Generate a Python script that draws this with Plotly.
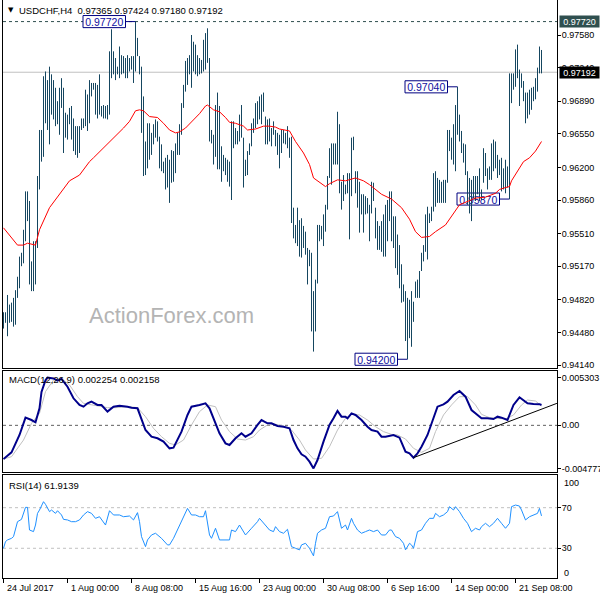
import plotly.graph_objects as go

# ---------------- data ----------------
highs = [
    0.9469, 0.9469, 0.9487, 0.9477, 0.9479, 0.9484, 0.9492, 0.9506, 0.9527, 0.9531,
    0.9555, 0.9595, 0.9595, 0.9585, 0.9522, 0.9543, 0.9543, 0.9611, 0.9659, 0.9659,
    0.9715, 0.9720, 0.9711, 0.9725, 0.9717, 0.9711, 0.9703, 0.9689, 0.9703, 0.9713,
    0.9703, 0.9677, 0.9675, 0.9682, 0.9684, 0.9671, 0.9663, 0.9663, 0.9663, 0.9671,
    0.9671, 0.9701, 0.9696, 0.9711, 0.9708, 0.9708,
    0.9708, 0.9706, 0.9717, 0.9684, 0.9685, 0.9684, 0.9685, 0.9741, 0.9764, 0.9741,
    0.9734, 0.9725, 0.9746, 0.9737, 0.9736, 0.9734, 0.9737, 0.9734, 0.9736, 0.9736,
    0.9772, 0.9755, 0.9736, 0.9725, 0.9694, 0.9647, 0.9666, 0.9666, 0.9656, 0.9665,
    0.9670, 0.9668, 0.9652, 0.9644, 0.9626, 0.9630, 0.9633, 0.9628, 0.9638, 0.9637,
    0.9645, 0.9656, 0.9665, 0.9687, 0.9706, 0.9731, 0.9734,
    0.9737, 0.9758, 0.9751, 0.9748, 0.9737, 0.9734, 0.9732, 0.9753, 0.9760, 0.9765,
    0.9734, 0.9659, 0.9654, 0.9685, 0.9698, 0.9684, 0.9642, 0.9633, 0.9630, 0.9628,
    0.9626, 0.9668, 0.9668, 0.9661, 0.9658, 0.9675, 0.9685, 0.9651, 0.9628, 0.9637,
    0.9645, 0.9666, 0.9671, 0.9687, 0.9689, 0.9694, 0.9696, 0.9698, 0.9673, 0.9670,
    0.9671, 0.9661, 0.9668, 0.9659, 0.9656, 0.9654,
    0.9659, 0.9659, 0.9656, 0.9663, 0.9651, 0.9652, 0.9578, 0.9560, 0.9578, 0.9565,
    0.9567, 0.9559, 0.9553, 0.9536, 0.9534, 0.9531, 0.9491, 0.9503, 0.9560, 0.9560,
    0.9559, 0.9571, 0.9581, 0.9611, 0.9640, 0.9645, 0.9645, 0.9645, 0.9678, 0.9665,
    0.9605, 0.9612, 0.9602, 0.9614, 0.9614, 0.9651, 0.9652, 0.9616, 0.9616, 0.9605,
    0.9592, 0.9592, 0.9590, 0.9588, 0.9581, 0.9605, 0.9604,
    0.9578, 0.9564, 0.9559, 0.9564, 0.9571, 0.9581, 0.9586, 0.9595, 0.9595, 0.9569,
    0.9569, 0.9550, 0.9539, 0.9519, 0.9498, 0.9491, 0.9484, 0.9482, 0.9491, 0.9480,
    0.9501, 0.9503, 0.9512, 0.9531, 0.9539, 0.9571, 0.9579, 0.9572, 0.9579, 0.9614,
    0.9616, 0.9609, 0.9607, 0.9605, 0.9607, 0.9607, 0.9659, 0.9659, 0.9651, 0.9665,
    0.9685, 0.9704, 0.9675, 0.9658, 0.9645, 0.9644,
    0.9616, 0.9609, 0.9607, 0.9611, 0.9611, 0.9611, 0.9619, 0.9597, 0.9640, 0.9635,
    0.9619, 0.9621, 0.9645, 0.9649, 0.9647, 0.9633, 0.9628, 0.9630, 0.9619, 0.9628,
    0.9621, 0.9718, 0.9718, 0.9718, 0.9743, 0.9748, 0.9722, 0.9718, 0.9710, 0.9698,
    0.9698, 0.9701, 0.9703, 0.9704, 0.9713, 0.9724, 0.9746, 0.97424,
]
lows = [
    0.9452, 0.9458, 0.9444, 0.9458, 0.9459, 0.9454, 0.9456, 0.9484, 0.9494, 0.9517,
    0.9520, 0.9543, 0.9564, 0.9498, 0.9491, 0.9491, 0.9498, 0.9536, 0.9597, 0.9626,
    0.9631, 0.9666, 0.9659, 0.9644, 0.9675, 0.9670, 0.9663, 0.9665, 0.9654, 0.9682,
    0.9635, 0.9651, 0.9649, 0.9665, 0.9649, 0.9637, 0.9633, 0.9630, 0.9635, 0.9659,
    0.9661, 0.9663, 0.9658, 0.9666, 0.9694, 0.9701,
    0.9675, 0.9671, 0.9675, 0.9673, 0.9671, 0.9671, 0.9670, 0.9675, 0.9713, 0.9717,
    0.9711, 0.9717, 0.9713, 0.9717, 0.9718, 0.9713, 0.9713, 0.9720, 0.9722, 0.9708,
    0.9720, 0.9736, 0.9717, 0.9656, 0.9611, 0.9612, 0.9619, 0.9628, 0.9633, 0.9644,
    0.9651, 0.9647, 0.9619, 0.9616, 0.9614, 0.9597, 0.9599, 0.9583, 0.9604, 0.9605,
    0.9614, 0.9633, 0.9633, 0.9654, 0.9682, 0.9699, 0.9706,
    0.9717, 0.9703, 0.9720, 0.9717, 0.9715, 0.9717, 0.9718, 0.9720, 0.9722, 0.9729,
    0.9647, 0.9645, 0.9623, 0.9631, 0.9618, 0.9618, 0.9605, 0.9616, 0.9612, 0.9605,
    0.9600, 0.9586, 0.9640, 0.9644, 0.9644, 0.9647, 0.9651, 0.9599, 0.9611, 0.9612,
    0.9633, 0.9642, 0.9656, 0.9661, 0.9665, 0.9670, 0.9665, 0.9678, 0.9644, 0.9644,
    0.9647, 0.9642, 0.9654, 0.9642, 0.9633, 0.9619,
    0.9635, 0.9645, 0.9644, 0.9640, 0.9630, 0.9562, 0.9546, 0.9541, 0.9538, 0.9527,
    0.9526, 0.9536, 0.9529, 0.9498, 0.9517, 0.9449, 0.9428, 0.9449, 0.9499, 0.9543,
    0.9545, 0.9538, 0.9553, 0.9576, 0.9609, 0.9602, 0.9623, 0.9623, 0.9623, 0.9593,
    0.9576, 0.9585, 0.9592, 0.9593, 0.9545, 0.9590, 0.9638, 0.9593, 0.9578, 0.9552,
    0.9571, 0.9552, 0.9571, 0.9572, 0.9543, 0.9572, 0.9585,
    0.9546, 0.9534, 0.9534, 0.9532, 0.9527, 0.9527, 0.9543, 0.9564, 0.9543, 0.9536,
    0.9515, 0.9508, 0.9494, 0.9479, 0.9480, 0.9439, 0.9420, 0.9442, 0.9433, 0.9459,
    0.9484, 0.9484, 0.9484, 0.9512, 0.9522, 0.9532, 0.9524, 0.9562, 0.9564, 0.9574,
    0.9579, 0.9583, 0.9583, 0.9583, 0.9583, 0.9583, 0.9604, 0.9637, 0.9628, 0.9623,
    0.9616, 0.9654, 0.9647, 0.9635, 0.9625, 0.9612,
    0.9581, 0.9572, 0.9564, 0.9588, 0.9585, 0.9592, 0.9585, 0.9586, 0.9604, 0.9611,
    0.9597, 0.9607, 0.9607, 0.9616, 0.9619, 0.9609, 0.9612, 0.9595, 0.9597, 0.9593,
    0.9599, 0.9587, 0.9687, 0.9701, 0.9704, 0.9713, 0.9684, 0.9703, 0.9689, 0.9666,
    0.9671, 0.9675, 0.9680, 0.9689, 0.9691, 0.9699, 0.9718, 0.97180,
]

# moving average (red line), sampled at bar positions
ma_idx = [0, 7, 10, 12, 16, 18, 23, 28, 33, 38, 43, 45, 50, 53, 57, 60, 63, 66, 68, 70,
          73, 77, 80, 83, 86, 88, 91, 95, 98, 101, 102, 105, 108, 111, 113, 116, 120, 122, 126, 130,
          133, 136, 138, 143, 144, 146, 150, 153, 155, 158, 161, 163, 167, 171, 176, 180, 183, 189, 194, 199,
          203, 206, 209, 213, 216, 221, 224, 228, 236, 241, 246, 248, 251, 253, 254, 257, 260, 263, 266, 269]
ma_val = [0.9557, 0.9539, 0.9539, 0.9541, 0.9539, 0.9555, 0.9578, 0.9592, 0.9606, 0.9612,
          0.9626, 0.9630, 0.9640, 0.9647, 0.9654, 0.9661, 0.9668, 0.9679, 0.9680, 0.9679,
          0.9673, 0.9672, 0.9666, 0.9659, 0.9656, 0.9657, 0.9661, 0.9670, 0.9676, 0.9684,
          0.9685, 0.9680, 0.9678, 0.9672, 0.9667, 0.9666, 0.9663, 0.9659, 0.9660, 0.9663,
          0.9663, 0.9662, 0.9660, 0.9658, 0.9654, 0.9647, 0.9635, 0.9623, 0.9609, 0.9604,
          0.9600, 0.9603, 0.9607, 0.9606, 0.9609, 0.9606, 0.9602, 0.9592, 0.9587, 0.9578,
          0.9566, 0.9553, 0.9547, 0.9548, 0.9553, 0.9560, 0.9569, 0.9581, 0.9588, 0.9589,
          0.9593, 0.9597, 0.9599, 0.9600, 0.9606, 0.9616, 0.9626, 0.9630, 0.9637, 0.9647]

# MACD main line
macd_idx = [0, 4, 8, 11, 14, 16, 18, 19, 21, 22, 25, 27, 29, 32, 35, 38, 40, 42, 44, 47,
            49, 52, 55, 58, 62, 64, 67, 69, 71, 74, 77, 80, 83, 85, 86, 89, 92, 94, 98, 101,
            103, 106, 108, 111, 113, 116, 119, 121, 124, 127, 129, 132, 134, 137, 140, 143, 145, 147, 149, 151,
            153, 155, 157, 160, 163, 165, 167, 169, 171, 172, 174, 176, 179, 182, 184, 187, 189, 191, 193, 195,
            198, 201, 203, 205, 207, 209, 212, 215, 217, 220, 222, 225, 228, 231, 234, 237, 239, 242, 245, 247,
            249, 252, 255, 258, 260, 262, 265, 268, 269]
macd_val = [-0.00374, -0.00300, -0.00107, 0.00085, 0.00059, 0.00033, 0.00189, 0.00370, 0.00500, 0.00530,
            0.00520, 0.00495, 0.00515, 0.00429, 0.00300, 0.00226, 0.00207, 0.00244, 0.00263, 0.00226,
            0.00226, 0.00152, 0.00207, 0.00218, 0.00207, 0.00196, 0.00189, 0.00078, -0.00052, -0.00126,
            -0.00144, -0.00181, -0.00255, -0.00248, -0.00200, -0.00070, 0.00115, 0.00207, 0.00226, 0.00244,
            0.00189, 0.00022, -0.00089, -0.00200, -0.00218, -0.00144, -0.00089, -0.00126, -0.00089, 0.00004,
            0.00059, 0.00022, 0.00022, -0.00007, -0.00015, -0.00033, -0.00163, -0.00255, -0.00322, -0.00348,
            -0.00403, -0.00478, -0.00385, -0.00181, 0.00004, 0.00078, 0.00159, 0.00096, 0.00096, 0.00078,
            0.00133, 0.00115, 0.00059, -0.00015, -0.00052, -0.00070, -0.00126, -0.00126, -0.00118, -0.00107,
            -0.00137, -0.00292, -0.00311, -0.00359, -0.00311, -0.00237, -0.00107, 0.00078, 0.00207, 0.00233,
            0.00263, 0.00337, 0.00381, 0.00318, 0.00170, 0.00115, 0.00078, 0.00078, 0.00070, 0.00096,
            0.00085, 0.00059, 0.00226, 0.00311, 0.00281, 0.00244, 0.00237, 0.00235, 0.002254]

# MACD signal line
sig_idx = [0, 4, 10, 14, 18, 21, 25, 29, 33, 37, 40, 44, 48, 52, 56, 60, 63, 67, 71, 75,
           79, 83, 86, 90, 94, 98, 102, 106, 109, 113, 117, 121, 125, 128, 132, 136, 140, 144, 148, 151,
           155, 159, 163, 167, 171, 174, 178, 182, 186, 190, 194, 197, 201, 205, 209, 213, 216, 220, 224, 228,
           232, 236, 239, 243, 247, 251, 255, 259, 262, 266, 269]
sig_val = [-0.00374, -0.00348, -0.00163, 0.00022, 0.00133, 0.00374, 0.00503, 0.00522, 0.00448, 0.00318,
           0.00244, 0.00226, 0.00215, 0.00196, 0.00196, 0.00207, 0.00207, 0.00196, 0.00096, -0.00033,
           -0.00126, -0.00200, -0.00218, -0.00163, 0.00004, 0.00152, 0.00226, 0.00207, 0.00059, -0.00070,
           -0.00152, -0.00163, -0.00126, -0.00052, 0.00004, 0.00011, -0.00007, -0.00052, -0.00163, -0.00274,
           -0.00374, -0.00366, -0.00237, -0.00052, 0.00078, 0.00122, 0.00115, 0.00059, -0.00015, -0.00070,
           -0.00100, -0.00107, -0.00152, -0.00255, -0.00300, -0.00255, -0.00070, 0.00115, 0.00226, 0.00318,
           0.00318, 0.00226, 0.00122, 0.00085, 0.00078, 0.00070, 0.00115, 0.00226, 0.00281, 0.00270,
           0.002158]

# MACD trendline (two anchor points)
tl_idx = [205, 276.7]
tl_val = [-0.00359, 0.00244]

# RSI(14)
rsi_idx = [0, 1, 2, 4, 5, 6, 7, 9, 10, 11, 12, 13, 15, 16, 17, 18, 20, 21, 23, 24,
           26, 27, 29, 30, 32, 34, 36, 38, 40, 42, 44, 46, 48, 50, 51, 53, 55, 58, 60, 63,
           65, 67, 68, 69, 71, 72, 74, 76, 79, 82, 83, 85, 87, 89, 91, 92, 94, 96, 98, 100,
           101, 103, 104, 106, 108, 111, 113, 114, 116, 118, 121, 124, 127, 128, 130, 133, 135, 136, 138, 140,
           142, 144, 146, 148, 149, 151, 153, 155, 156, 157, 159, 161, 163, 165, 167, 169, 171, 172, 174, 175,
           177, 179, 181, 183, 185, 187, 189, 191, 193, 194, 196, 198, 200, 201, 203, 204, 205, 207, 209, 211,
           213, 215, 216, 218, 220, 222, 223, 225, 226, 228, 230, 232, 234, 236, 238, 239, 241, 243, 245, 247,
           249, 251, 253, 254, 256, 258, 259, 261, 263, 265, 267, 268, 269]
rsi_val = [30.0, 36.6, 38.2, 39.8, 41.5, 49.7, 56.2, 58.5, 64.4, 70.3, 70.3, 48.0, 46.4, 52.9, 64.4, 67.7, 75.9, 73.3, 66.1, 67.7,
           64.4, 67.0, 62.8, 58.5, 57.9, 56.2, 56.2, 57.9, 62.8, 66.1, 64.4, 59.5, 61.1, 56.2, 52.9, 67.0, 62.8, 62.8, 61.1, 61.8,
           57.9, 65.1, 56.2, 41.5, 31.6, 38.2, 43.1, 44.8, 39.8, 33.3, 33.3, 39.8, 48.0, 57.9, 66.1, 69.3, 62.8, 62.8, 61.1, 61.1,
           67.0, 43.1, 39.8, 49.7, 38.2, 38.2, 38.2, 48.0, 46.4, 52.9, 43.1, 49.7, 56.2, 59.5, 54.6, 48.0, 46.4, 51.3, 46.4, 44.8,
           48.7, 31.6, 30.0, 28.4, 33.3, 34.9, 30.0, 22.5, 34.9, 44.8, 48.0, 49.7, 61.1, 61.8, 66.1, 49.7, 52.9, 48.0, 59.5, 54.6,
           48.0, 44.8, 46.4, 48.0, 46.4, 48.0, 43.1, 43.1, 48.0, 48.0, 41.5, 39.8, 34.9, 28.4, 34.9, 33.3, 30.0, 46.4, 48.0, 54.6,
           59.5, 59.5, 64.4, 61.1, 62.8, 66.1, 71.0, 67.7, 71.0, 66.1, 59.5, 54.6, 46.4, 49.7, 48.0, 51.3, 54.6, 51.3, 54.6, 59.5,
           54.6, 49.7, 54.6, 71.0, 72.6, 71.6, 67.7, 57.9, 61.1, 62.8, 64.4, 69.3, 61.9]

# swing labels (bar index, price, text)
mark_idx = [66, 227, 253, 202]
mark_price = [0.97720, 0.97040, 0.95870, 0.94200]
mark_text = ["0.97720", "0.97040", "0.95870", "0.94200"]

HIGH_LEVEL = 0.97720
LAST_PRICE = 0.97192

price_ticks = [0.97580, 0.97240, 0.96890, 0.96550, 0.96200, 0.95860, 0.95510, 0.95170, 0.94820, 0.94480, 0.94140]
price_tick_text = ["0.97580", "0.97240", "0.96890", "0.96550", "0.96200", "0.95860", "0.95510", "0.95170",
                   "0.94820", "0.94480", "0.94140"]
macd_ticks = [0.005303, 0.0, -0.004777]
macd_tick_text = ["0.005303", "0.00", "-0.004777"]
rsi_levels = [70, 30]

date_idx = [0, 32, 64, 96, 128, 160, 192, 224, 256]
date_text = ["24 Jul 2017", "1 Aug 00:00", "8 Aug 08:00", "15 Aug 16:00", "23 Aug 00:00",
             "30 Aug 08:00", "6 Sep 16:00", "14 Sep 00:00", "21 Sep 08:00"]

# ---------------- styling ----------------
FONT = "Liberation Sans"
FS = 9
BAR_COLOR = "#154660"
NAVY = "#000080"
W, H = 600, 600

XDOM = [3 / W, 557 / W]
XRANGE = [-0.25, 276.75]
MAIN_DOM = [1 - 367.5 / H, 1.0]
MACD_DOM = [1 - 472 / H, 1 - 370.5 / H]
RSI_DOM = [1 - 578 / H, 1 - 475 / H]


def py(px):
    return 1 - px / H


# vertical high-low bars built from the arrays
bar_x, bar_y = [], []
for i, (hi, lo) in enumerate(zip(highs, lows)):
    bar_x += [i, i, None]
    bar_y += [lo, hi, None]

fig = go.Figure()
fig.add_trace(go.Scatter(x=bar_x, y=bar_y, mode="lines", line=dict(color=BAR_COLOR, width=1),
                         xaxis="x", yaxis="y", hoverinfo="skip", connectgaps=False))
fig.add_trace(go.Scatter(x=ma_idx, y=ma_val, mode="lines", line=dict(color="#ff0000", width=1),
                         xaxis="x", yaxis="y", hoverinfo="skip"))

fig.add_trace(go.Scatter(x=sig_idx, y=sig_val, mode="lines", line=dict(color="#c0c0c0", width=1),
                         xaxis="x2", yaxis="y2", hoverinfo="skip"))
fig.add_trace(go.Scatter(x=macd_idx, y=macd_val, mode="lines", line=dict(color="#00008b", width=2),
                         xaxis="x2", yaxis="y2", hoverinfo="skip"))
fig.add_trace(go.Scatter(x=tl_idx, y=tl_val, mode="lines", line=dict(color="#000000", width=1),
                         xaxis="x2", yaxis="y2", hoverinfo="skip"))

fig.add_trace(go.Scatter(x=rsi_idx, y=rsi_val, mode="lines", line=dict(color="#1e90ff", width=1),
                         xaxis="x3", yaxis="y3", hoverinfo="skip"))

axis_font = dict(family=FONT, size=FS, color="black")
common_x = dict(domain=XDOM, range=XRANGE, showgrid=False, zeroline=False, showline=True,
                linecolor="black", linewidth=1, showticklabels=False, fixedrange=True)
common_y = dict(side="right", showgrid=False, zeroline=False, showline=True, mirror=True,
                linecolor="black", linewidth=1, ticks="outside", ticklen=3, tickcolor="black",
                tickfont=axis_font, fixedrange=True, ticklabelstandoff=-1)

fig.update_layout(
    width=W, height=H, margin=dict(l=0, r=0, t=0, b=0, autoexpand=False),
    paper_bgcolor="white", plot_bgcolor="white", showlegend=False,
    font=dict(family=FONT, size=FS, color="black"),
    xaxis=dict(**common_x, anchor="y", ticks=""),
    xaxis2=dict(**common_x, anchor="y2", ticks="", mirror=True),
    xaxis3=dict(**common_x, anchor="y3", mirror=True, ticks="outside", ticklen=4, tickcolor="black",
                tickvals=date_idx),
    yaxis=dict(**common_y, domain=MAIN_DOM, anchor="x", range=[0.94114, 0.97945],
               tickvals=price_ticks, ticktext=price_tick_text),
    yaxis2=dict(**common_y, domain=MACD_DOM, anchor="x2", range=[-0.00518, 0.006086],
                tickvals=macd_ticks, ticktext=macd_tick_text),
    yaxis3=dict(**common_y, domain=RSI_DOM, anchor="x3", range=[0.7, 102.2],
                tickvals=rsi_levels, ticktext=[str(v) for v in rsi_levels]),
)

shapes = []
# reference levels
shapes.append(dict(type="line", xref="x", yref="y", x0=XRANGE[0], x1=XRANGE[1], y0=HIGH_LEVEL, y1=HIGH_LEVEL,
                   line=dict(color="#2f4f4f", width=1, dash="3px,3px"), layer="below"))
shapes.append(dict(type="line", xref="x", yref="y", x0=XRANGE[0], x1=XRANGE[1], y0=LAST_PRICE, y1=LAST_PRICE,
                   line=dict(color="#c0c0c0", width=1), layer="below"))
shapes.append(dict(type="line", xref="x2", yref="y2", x0=XRANGE[0], x1=XRANGE[1], y0=0, y1=0,
                   line=dict(color="#606060", width=1, dash="3px,3px"), layer="below"))
for lv in rsi_levels:
    shapes.append(dict(type="line", xref="x3", yref="y3", x0=XRANGE[0], x1=XRANGE[1], y0=lv, y1=lv,
                       line=dict(color="#c0c0c0", width=1, dash="3px,3px"), layer="below"))

# swing labels
box_h = 0.00063
for bi, pr, tx in zip(mark_idx, mark_price, mark_text):
    shapes.append(dict(type="line", xref="x", yref="y", x0=bi - 5, x1=bi, y0=pr, y1=pr,
                       line=dict(color=NAVY, width=1), layer="below"))
    shapes.append(dict(type="rect", xref="x", yref="y", x0=bi - 26.25, x1=bi - 5,
                       y0=pr - box_h, y1=pr + box_h, line=dict(color=NAVY, width=1),
                       fillcolor="white", layer="below",
                       label=dict(text=tx, font=dict(family=FONT, size=10.5, color="#1010a0"),
                                  textposition="middle center")))
fig.update_layout(shapes=shapes)

ann = []
ann.append(dict(xref="paper", yref="paper", x=6 / W, y=py(10), xanchor="left", yanchor="middle",
                text="▼", showarrow=False, font=dict(family="DejaVu Sans", size=7, color="black")))
ann.append(dict(xref="paper", yref="paper", x=17 / W, y=py(10), xanchor="left", yanchor="middle",
                text="USDCHF,H4  0.97365 0.97424 0.97180 0.97192", showarrow=False,
                font=dict(family=FONT, size=9.5, color="black")))
ann.append(dict(xref="paper", yref="paper", x=7 / W, y=py(379), xanchor="left", yanchor="middle",
                text="MACD(12,26,9) 0.002254 0.002158", showarrow=False,
                font=dict(family=FONT, size=9.5, color="black")))
ann.append(dict(xref="paper", yref="paper", x=7 / W, y=py(485), xanchor="left", yanchor="middle",
                text="RSI(14) 61.9139", showarrow=False, font=dict(family=FONT, size=9.5, color="black")))
ann.append(dict(xref="paper", yref="paper", x=87 / W, y=py(316), xanchor="left", yanchor="middle",
                text="ActionForex.com", showarrow=False, font=dict(family=FONT, size=22, color="#b4b4b4")))
# RSI scale bounds
ann.append(dict(xref="paper", yref="paper", x=562 / W, y=py(483), xanchor="left", yanchor="middle",
                text="100", showarrow=False, font=axis_font))
ann.append(dict(xref="paper", yref="paper", x=562 / W, y=py(573), xanchor="left", yanchor="middle",
                text="0", showarrow=False, font=axis_font))
# price boxes on the scale
ann.append(dict(xref="paper", yref="y", x=559 / W, y=HIGH_LEVEL, xanchor="left", yanchor="middle",
                text="0.97720", showarrow=False, bgcolor="#2f4f4f", width=37, height=9, borderpad=1,
                font=dict(family=FONT, size=FS, color="white")))
ann.append(dict(xref="paper", yref="y", x=559 / W, y=LAST_PRICE, xanchor="left", yanchor="middle",
                text="0.97192", showarrow=False, bgcolor="#000000", width=37, height=9, borderpad=1,
                font=dict(family=FONT, size=FS, color="white")))
# date labels
for di, dt in zip(date_idx, date_text):
    ann.append(dict(xref="x3", yref="paper", x=di + 0.75, y=py(588), xanchor="left", yanchor="middle",
                    text=dt, showarrow=False, font=axis_font))
fig.update_layout(annotations=ann)

fig.write_html("out.html", config={"displayModeBar": False},
               post_script="document.body.style.margin='0';document.body.style.overflow='hidden';")
